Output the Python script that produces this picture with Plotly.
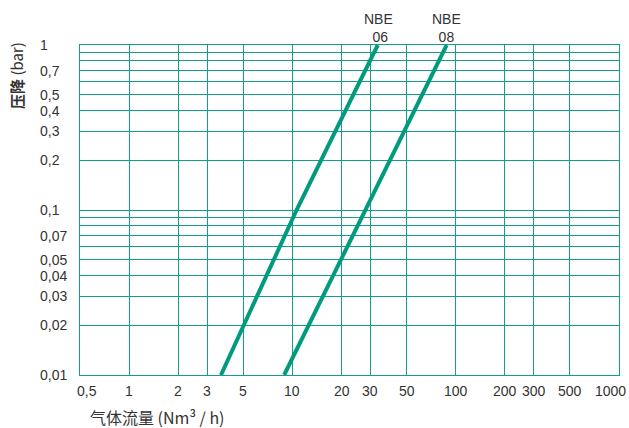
import math
import plotly.graph_objects as go

# Data
nbe06_flow = [3.65, 10.6, 33.3]
nbe06_dp = [0.01, 0.1, 1.0]
nbe08_flow = [8.9, 28.0, 88.0]
nbe08_dp = [0.01, 0.1, 1.0]

x_grid = [0.5, 1, 2, 3, 5, 10, 20, 30, 50, 100, 200, 300, 500, 1000]
x_labels = ["0,5", "1", "2", "3", "5", "10", "20", "30", "50", "100", "200", "300", "500", "1000"]
y_grid = [0.01, 0.02, 0.03, 0.04, 0.05, 0.06, 0.07, 0.08, 0.09, 0.1,
          0.2, 0.3, 0.4, 0.5, 0.6, 0.7, 0.8, 0.9, 1.0]
y_tick_vals = [1, 0.7, 0.5, 0.4, 0.3, 0.2, 0.1, 0.07, 0.05, 0.04, 0.03, 0.02, 0.01]
y_tick_labels = ["1", "0,7", "0,5", "0,4", "0,3", "0,2", "0,1", "0,07", "0,05", "0,04", "0,03", "0,02", "0,01"]

GRID = "#139e88"
LINE = "#009a7e"
TEXT = "#333333"
FONT = "Liberation Sans, Arial, sans-serif"
CJK = "Noto Sans CJK SC, sans-serif"

fig = go.Figure()
fig.add_trace(go.Scatter(x=nbe06_flow, y=nbe06_dp, mode="lines",
                         line=dict(color=LINE, width=4), cliponaxis=False,
                         showlegend=False, name="NBE 06"))
fig.add_trace(go.Scatter(x=nbe08_flow, y=nbe08_dp, mode="lines",
                         line=dict(color=LINE, width=4), cliponaxis=False,
                         showlegend=False, name="NBE 08"))

annotations = []
# y tick labels, left-aligned
for v, t in zip(y_tick_vals, y_tick_labels):
    annotations.append(dict(x=0, xref="paper", xshift=-42, xanchor="left",
                            y=math.log10(v), yref="y", yanchor="middle", text=t, showarrow=False,
                            font=dict(family=FONT, size=14, color=TEXT)))
# x tick labels
for i, (v, t) in enumerate(zip(x_grid, x_labels)):
    shift = 0
    if i == 0:
        shift = 7
    elif i == len(x_grid) - 1:
        shift = -9
    annotations.append(dict(x=math.log10(v), xref="x", xanchor="center", xshift=shift,
                            y=0, yref="paper", yanchor="middle", yshift=-16,
                            text=t, showarrow=False,
                            font=dict(family=FONT, size=14, color=TEXT)))
# curve labels
annotations.append(dict(x=math.log10(nbe06_flow[-1]), xref="x", xshift=1, y=0, yref="y",
                        yanchor="bottom", yshift=-2,
                        text="NBE<br> 06", showarrow=False, align="center",
                        font=dict(family=FONT, size=14, color=TEXT)))
annotations.append(dict(x=math.log10(nbe08_flow[-1]), xref="x", y=0, yref="y",
                        yanchor="bottom", yshift=-2,
                        text="NBE<br>08", showarrow=False, align="center",
                        font=dict(family=FONT, size=14, color=TEXT)))
# axis titles
annotations.append(dict(x=0, xref="paper", xshift=-64, xanchor="center",
                        y=1, yref="paper", yshift=-31, yanchor="middle",
                        text="<b>压降</b> (bar)", textangle=-90, showarrow=False,
                        font=dict(family=CJK, size=15, color=TEXT)))
annotations.append(dict(x=0, xref="paper", xshift=8, xanchor="left",
                        y=0, yref="paper", yshift=-42, yanchor="middle",
                        text="气体流量 (Nm³ / h)", showarrow=False,
                        font=dict(family=CJK, size=16, color=TEXT)))

fig.update_layout(
    width=629, height=428,
    margin=dict(l=80, r=10, t=45, b=53),
    plot_bgcolor="white", paper_bgcolor="white",
    showlegend=False,
    annotations=annotations,
    xaxis=dict(type="log", range=[-0.30103, 3], tickvals=x_grid, showticklabels=False,
               showgrid=True, gridcolor=GRID, gridwidth=1, zeroline=False,
               showline=True, linecolor=GRID, linewidth=1, mirror=True, ticks=""),
    yaxis=dict(type="log", range=[-2, 0], tickvals=y_grid, showticklabels=False,
               showgrid=True, gridcolor=GRID, gridwidth=1, zeroline=False,
               showline=True, linecolor=GRID, linewidth=1, mirror=True, ticks=""),
)

fig.write_html("out.html", config={"displayModeBar": False},
               post_script="document.body.style.margin='0';")
